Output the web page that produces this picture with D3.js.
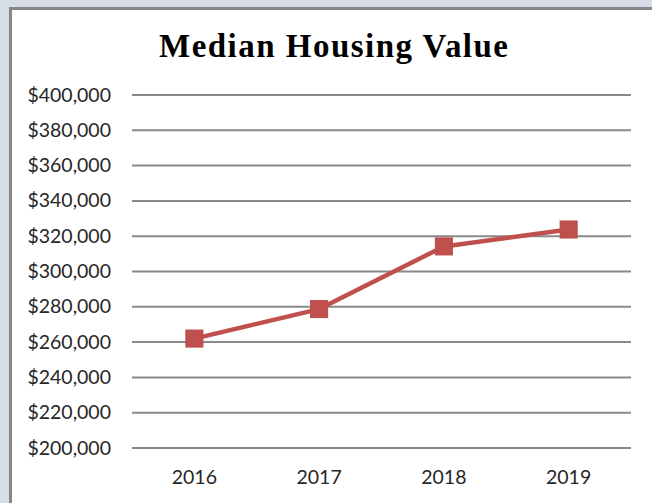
<!DOCTYPE html>
<html>
<head>
<meta charset="utf-8">
<script src="https://cdn.jsdelivr.net/npm/d3@7"></script>
<style>
  html, body { margin: 0; padding: 0; background: #d6dde6; }
  svg { display: block; }
</style>
</head>
<body>
<div id="chart"></div>
<script>
  var years = ["2016", "2017", "2018", "2019"];
  var values = [262000, 278700, 314200, 323800];
  var yTicks = [200000, 220000, 240000, 260000, 280000, 300000, 320000, 340000, 360000, 380000, 400000];

  var W = 652, H = 503;
  var svg = d3.select("#chart").append("svg")
    .attr("width", W)
    .attr("height", H);

  // chart frame
  svg.append("rect")
    .attr("x", 10.5).attr("y", 8.5)
    .attr("width", W + 10).attr("height", H + 10)
    .attr("fill", "#fff")
    .attr("stroke", "#868686")
    .attr("stroke-width", 3);

  svg.append("text")
    .attr("x", 159).attr("y", 57)
    .attr("textLength", 349)
    .attr("lengthAdjust", "spacing")
    .style("font-family", "'Liberation Serif', serif")
    .style("font-weight", "bold")
    .style("font-size", "33px")
    .attr("fill", "#000")
    .text("Median Housing Value");

  var x = d3.scaleBand().domain(years).range([132, 631]);
  var y = d3.scaleLinear().domain([200000, 400000]).range([448, 95]);

  var fmt = function(d) { return "$" + d3.format(",")(d); };

  // gridlines
  svg.append("g")
    .selectAll("line")
    .data(yTicks)
    .join("line")
    .attr("x1", 132).attr("x2", 631)
    .attr("y1", function(d) { return y(d); })
    .attr("y2", function(d) { return y(d); })
    .attr("stroke", "#8a8a8a")
    .attr("stroke-width", 2);

  // y labels
  svg.append("g")
    .selectAll("text")
    .data(yTicks)
    .join("text")
    .attr("x", 111)
    .attr("y", function(d) { return y(d) + 6.5; })
    .attr("text-anchor", "end")
    .style("font-family", "Lato, 'Open Sans', sans-serif")
    .style("font-size", "19.5px")
    .attr("fill", "#262626")
    .text(fmt);

  // x labels
  svg.append("g")
    .selectAll("text")
    .data(years)
    .join("text")
    .attr("x", function(d) { return x(d) + x.bandwidth() / 2; })
    .attr("y", 484)
    .attr("text-anchor", "middle")
    .style("font-family", "Lato, 'Open Sans', sans-serif")
    .style("font-size", "19.5px")
    .attr("fill", "#262626")
    .text(function(d) { return d; });

  var pts = years.map(function(d, i) {
    return [x(d) + x.bandwidth() / 2, y(values[i])];
  });

  svg.append("path")
    .attr("d", d3.line()(pts))
    .attr("fill", "none")
    .attr("stroke", "#c0504d")
    .attr("stroke-width", 4.5)
    .attr("stroke-linejoin", "round");

  var m = 17;
  svg.append("g")
    .selectAll("rect")
    .data(pts)
    .join("rect")
    .attr("x", function(d) { return d[0] - m / 2; })
    .attr("y", function(d) { return d[1] - m / 2; })
    .attr("width", m).attr("height", m)
    .attr("fill", "#c0504d")
    .attr("stroke", "#b84a47")
    .attr("stroke-width", 1);
</script>
</body>
</html>
